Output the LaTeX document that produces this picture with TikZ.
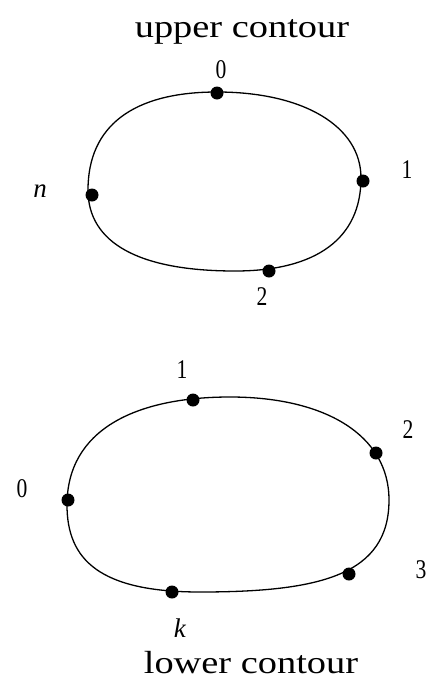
\documentclass[tikz,border=0pt]{standalone}
\usepackage{fontspec}
\setmainfont{Liberation Serif}
\begin{document}
\begin{tikzpicture}[x=1pt,y=-1pt,
  contour/.style={line width=1.3pt, draw=black},
  dot/.style={circle, fill=black, inner sep=0pt, minimum size=13pt},
  lab/.style={font=\fontsize{27}{30}\selectfont, inner sep=0pt, anchor=base},
  ttl/.style={font=\fontsize{32}{36}\selectfont, inner sep=0pt, anchor=base}]
\useasboundingbox (0,0) rectangle (431,683);

% titles
\node[ttl] (ut) at (242,37) {\scalebox{1.2}[1]{upper contour}};
\node[ttl] (lt) at (251,673) {\scalebox{1.2}[1]{lower contour}};

% upper contour
\draw[contour] (217,92) .. controls (303,92) and (361,126) .. (361,178)
  .. controls (361,238) and (317,271) .. (235,271)
  .. controls (139,271) and (88,243) .. (88,190)
  .. controls (88,126) and (133,92) .. cycle;
\node[dot] (u0) at (217,93) {};
\node[dot] (u1) at (363,181) {};
\node[dot] (un) at (92,195) {};
\node[dot] (u2) at (269,271) {};
\node[lab] (lu0) at (221,78) {\scalebox{0.8}[1]{0}};
\node[lab] (lu1) at (407,178) {\scalebox{0.8}[1]{1}};
\node[lab] (lu2) at (262,305) {\scalebox{0.8}[1]{2}};
\node[lab] (lun) at (40,197) {\textit{n}};

% lower contour
\draw[contour] (230,397) .. controls (325,397) and (389,435) .. (389,500)
  .. controls (389,575) and (320,592) .. (200,592)
  .. controls (100,592) and (67,560) .. (67,505)
  .. controls (67,430) and (135,397) .. cycle;
\node[dot] (l1) at (193,400) {};
\node[dot] (l2) at (376,453) {};
\node[dot] (l0) at (68,500) {};
\node[dot] (l3) at (349,574) {};
\node[dot] (lk) at (172,592) {};
\node[lab] (ll1) at (182,378) {\scalebox{0.8}[1]{1}};
\node[lab] (ll2) at (408,438) {\scalebox{0.8}[1]{2}};
\node[lab] (ll0) at (22,497) {\scalebox{0.8}[1]{0}};
\node[lab] (ll3) at (421,578) {\scalebox{0.8}[1]{3}};
\node[lab] (llk) at (180,637) {\textit{k}};
\end{tikzpicture}
\end{document}
